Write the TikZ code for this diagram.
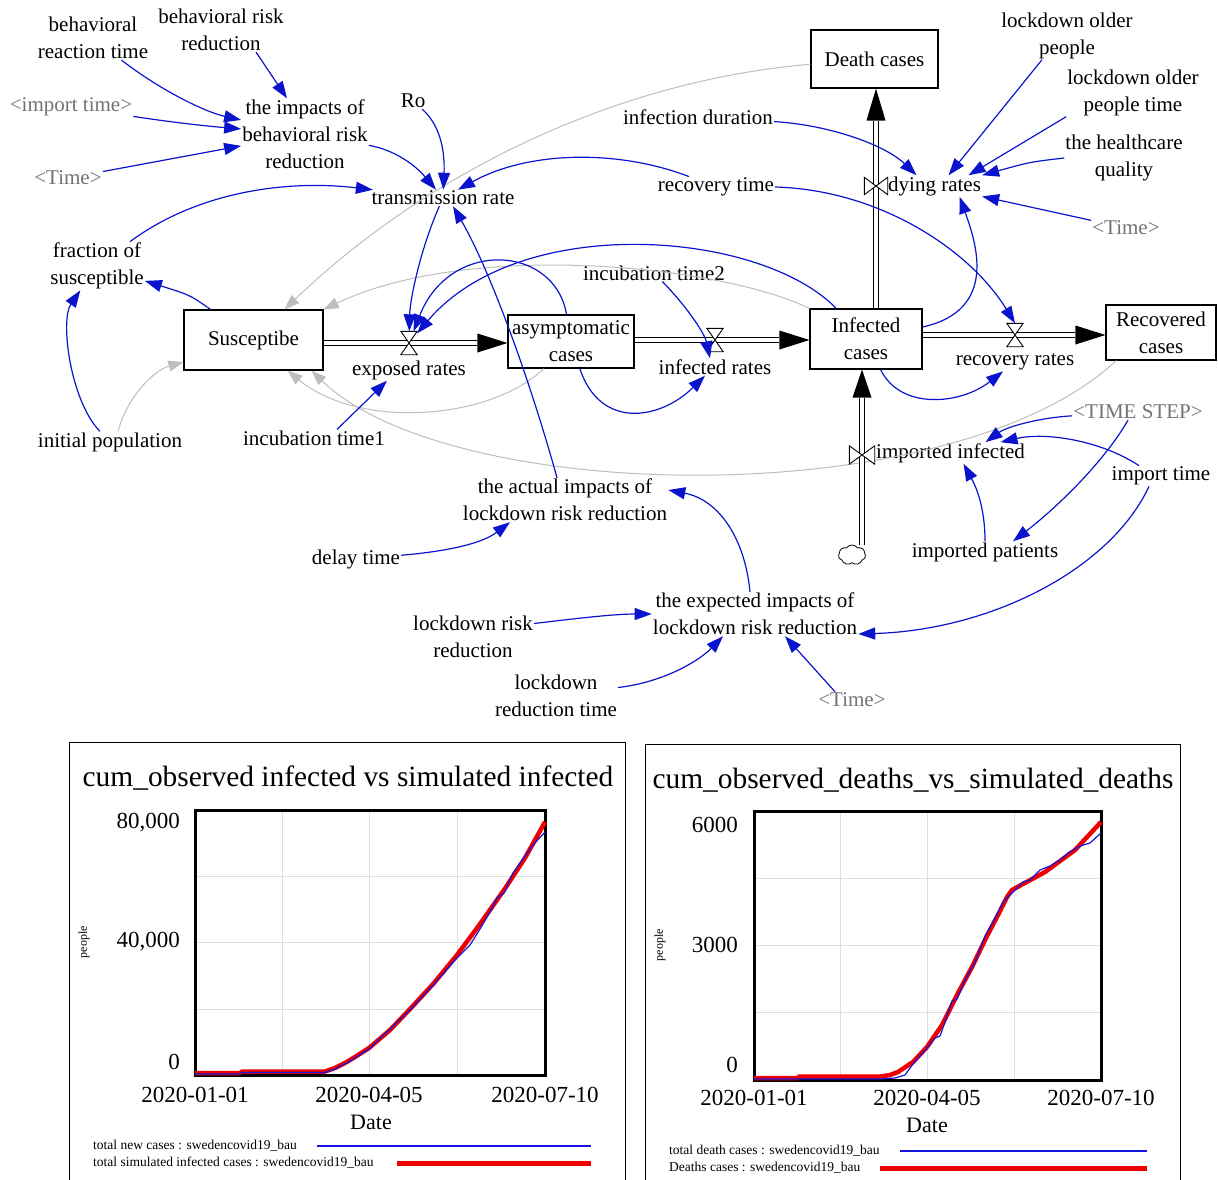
\documentclass[tikz,border=0pt]{standalone}
\usepackage{fontspec}
\setmainfont{Liberation Serif}
\usetikzlibrary{arrows.meta,shapes.symbols,calc}
\definecolor{infoblue}{RGB}{10,20,205}
\definecolor{linkgrey}{RGB}{190,190,190}
\definecolor{txtgrey}{RGB}{115,115,115}
\definecolor{gridgrey}{RGB}{222,222,222}
\definecolor{simred}{RGB}{238,0,0}
\definecolor{obsblue}{RGB}{20,20,220}
\newcommand\diafont{\fontsize{21}{27}\selectfont}
\newcommand\ttlfont{\fontsize{29.4}{34}\selectfont}
\newcommand\tickfont{\fontsize{23}{27}\selectfont}
\newcommand\datefont{\fontsize{22}{26}\selectfont}
\newcommand\legfont{\fontsize{13.5}{16}\selectfont}
\newcommand\pplfont{\fontsize{12}{14}\selectfont}
\begin{document}
\begin{tikzpicture}[x=1pt,y=-1pt,
  lbl/.style={font=\diafont, align=center, inner sep=1pt},
  glbl/.style={lbl, text=txtgrey},
  stock/.style={draw, line width=1.1pt, font=\diafont, align=center, inner sep=2pt},
  hvalve/.style={inner sep=0pt, minimum width=16pt, minimum height=23pt},
  vvalve/.style={inner sep=0pt, minimum width=23pt, minimum height=17pt},
  info/.style={draw=infoblue, line width=1.2pt, -{Triangle[length=17pt,width=12pt]}},
  glink/.style={draw=linkgrey, line width=1pt, -{Triangle[length=15pt,width=11pt]}},
  pipe/.style={draw=black, line width=1.2pt, double=white, double distance=4pt},
  valveshape/.style={draw=black, line width=0.9pt, fill=white},
  tick/.style={font=\tickfont, inner sep=0pt},
  leg/.style={font=\legfont, inner sep=0pt, anchor=west},
]
\useasboundingbox (0,0) rectangle (1218,1180);

% ---------------- labels / auxiliaries ----------------
\node[lbl] (brt) at (93,38) {behavioral\\reaction time};
\node[lbl] (brr) at (221,30) {behavioral risk\\reduction};
\node[glbl] (it1) at (71,107) {<import time>};
\node[glbl] (tm1) at (68,178) {<Time>};
\node[lbl] (ibr) at (305,134) {the impacts of\\behavioral risk\\reduction};
\node[lbl] (ro) at (413,101) {Ro};
\node[lbl] (tr) at (443,198) {transmission rate};
\node[lbl] (fos) at (97,266) {fraction of\\susceptible};
\node[lbl] (ip) at (110,442) {initial population};
\node[lbl] (it1n) at (314,438) {incubation time1};
\node[lbl] (it2) at (654,273) {incubation time2};
\node[lbl] (idur) at (698,117) {infection duration};
\node[lbl] (rect) at (716,187) {recovery time};
\node[lbl] (lop) at (1067,35.5) {lockdown older\\people};
\node[lbl] (lopt) at (1133,92.5) {lockdown older\\people time};
\node[lbl] (hq) at (1124,158) {the healthcare\\quality};
\node[glbl] (tm2) at (1126,228) {<Time>};
\node[glbl] (tstep) at (1138,412) {<TIME STEP>};
\node[lbl] (impt) at (1161,476) {import time};
\node[lbl] (impp) at (985,552) {imported patients};
\node[lbl] (act) at (565,500) {the actual impacts of\\lockdown risk reduction};
\node[lbl] (dly) at (356,559) {delay time};
\node[lbl] (exp) at (755,614) {the expected impacts of\\lockdown risk reduction};
\node[lbl] (lrr) at (473,636.5) {lockdown risk\\reduction};
\node[lbl] (lrt) at (556,695.5) {lockdown\\reduction time};
\node[glbl] (tm3) at (852,700) {<Time>};

% ---------------- stocks ----------------
\node[stock, minimum width=139pt, minimum height=60pt] (sus) at (253.5,340) {Susceptibe};
\node[stock, minimum width=126pt, minimum height=53pt, inner sep=0pt] (asy) at (571,341.5) {asymptomatic\\cases};
\node[stock, minimum width=112pt, minimum height=60pt] (inf) at (866,339) {Infected\\cases};
\node[stock, minimum width=110pt, minimum height=55pt] (rec) at (1161,332.5) {Recovered\\cases};
\node[stock, minimum width=127pt, minimum height=58pt] (dth) at (874.5,59) {Death cases};

% ---------------- valves and rate labels ----------------
\node[hvalve] (vexp) at (409,343) {};
\node[lbl] (lexp) at (409,370) {exposed rates};
\node[hvalve] (vinf) at (715,340) {};
\node[lbl] (linf) at (715,367) {infected rates};
\node[hvalve] (vrec) at (1015,335) {};
\node[lbl] (lrec) at (1015,362) {recovery rates};
\node[vvalve] (vdy) at (876,186) {};
\node[lbl, anchor=west] (ldy) at (887,186) {dying rates};
\node[vvalve, minimum width=25pt, minimum height=18pt] (vimp) at (862,455) {};
\node[lbl, anchor=west] (limp) at (875,453) {imported infected};
\node[draw, cloud, cloud puffs=7, cloud puff arc=110, aspect=1.4, minimum width=27pt, minimum height=20pt, inner sep=0pt, line width=0.8pt] (cld) at (852,555) {};

% ---------------- grey links ----------------
\draw[glink] (dth) .. controls (620,80) and (430,170) .. ([xshift=31pt]sus.north);
\draw[glink] (inf.north west) .. controls (720,265) and (470,240) .. (sus.north east);
\draw[glink] ([xshift=8pt]ip.north) .. controls (128,395) and (155,370) .. ([yshift=-22pt]sus.west);
\draw[glink] ([xshift=-27pt]asy.south) .. controls (490,420) and (360,430) .. ([xshift=34pt]sus.south);
\draw[glink] ([xshift=11pt]rec.south west) .. controls (950,515) and (450,505) .. ([xshift=58pt]sus.south);

% ---------------- flows ----------------
\draw[pipe] (sus.east |- vexp) -- ($(asy.west |- vexp)+(-30,0)$);
\fill (asy.west |- vexp) -- ++(-30,-9.5) -- ++(0,19) -- cycle;
\draw[pipe] (asy.east |- vinf) -- ($(inf.west |- vinf)+(-30,0)$);
\fill (inf.west |- vinf) -- ++(-30,-9.5) -- ++(0,19) -- cycle;
\draw[pipe] (inf.east |- vrec) -- ($(rec.west |- vrec)+(-30,0)$);
\fill (rec.west |- vrec) -- ++(-30,-9.5) -- ++(0,19) -- cycle;
\draw[pipe] (vdy |- inf.north) -- ($(vdy |- dth.south)+(0,32)$);
\fill (vdy |- dth.south) -- ++(-9.5,32) -- ++(19,0) -- cycle;
\draw[pipe] (vimp |- cld.north) -- ($(vimp |- inf.south)+(0,28)$);
\fill (vimp |- inf.south) -- ++(-9.5,28) -- ++(19,0) -- cycle;

\draw[valveshape] (vexp.north west) -- (vexp.north east) -- (vexp.south west) -- (vexp.south east) -- cycle;
\draw[valveshape] (vinf.north west) -- (vinf.north east) -- (vinf.south west) -- (vinf.south east) -- cycle;
\draw[valveshape] (vrec.north west) -- (vrec.north east) -- (vrec.south west) -- (vrec.south east) -- cycle;
\draw[valveshape] (vdy.north west) -- (vdy.south west) -- (vdy.north east) -- (vdy.south east) -- cycle;
\draw[valveshape] (vimp.north west) -- (vimp.south west) -- (vimp.north east) -- (vimp.south east) -- cycle;

% ---------------- blue information links ----------------
\draw[info] (brt) .. controls (160,90) and (205,112) .. (ibr);
\draw[info] ([xshift=35pt]brr.south) -- ([xshift=-18pt]ibr.north);
\draw[info] (it1) .. controls (170,122) and (205,126) .. (ibr);
\draw[info] (tm1) -- (ibr);
\draw[info] (ibr) .. controls (395,150) and (415,165) .. (tr);
\draw[info] (ro) .. controls (440,125) and (445,150) .. (tr);
\draw[info] (fos) .. controls (200,190) and (290,180) .. (tr);
\draw[info] ([xshift=-43pt]sus.north) .. controls (190,295) .. (fos);
\draw[info] (ip) .. controls (70,400) and (60,320) .. (fos);
\draw[info] (rect) .. controls (620,150) and (530,150) .. (tr);
\draw[info] (tr) .. controls (420,250) and (410,300) .. (vexp);
\draw[info] ([xshift=-8pt]act.north) .. controls (530,380) and (490,270) .. ([xshift=10pt]tr.south);
\draw[info] (asy) .. controls (555,245) and (450,238) .. (vexp);
\draw[info] (inf) .. controls (760,230) and (520,212) .. (vexp);
\draw[info] (asy) .. controls (600,430) and (660,420) .. ([xshift=-10pt]linf.south);
\draw[info] (it2) .. controls (690,310) and (705,335) .. ([xshift=-5pt]linf.north);
\draw[info] (inf) .. controls (900,410) and (960,405) .. (lrec);
\draw[info] (rect.east) .. controls (880,190) and (970,250) .. (vrec.north);
\draw[info] ([yshift=12pt]inf.east) .. controls (1000,310) and (975,240) .. ([xshift=25pt]ldy.south);
\draw[info] (idur) .. controls (830,125) and (885,145) .. ([xshift=-18pt]ldy.north);
\draw[info] ([xshift=-25pt]lop.south) -- ([xshift=14pt]ldy.north);
\draw[info] (lopt.south west) -- ([xshift=34pt]ldy.north);
\draw[info] (hq.west) .. controls (1030,162) .. (ldy.north east);
\draw[info] (tm2) -- (ldy);
\draw[info] (tstep) .. controls (1035,418) and (1005,428) .. ([xshift=35pt]limp.north);
\draw[info] ([xshift=-22pt]impt.north) .. controls (1100,440) and (1045,432) .. ([xshift=50pt]limp.north);
\draw[info] ([xshift=-10pt]tstep.south) .. controls (1105,460) and (1060,505) .. ([xshift=28pt]impp.north);
\draw[info] (impp.north) .. controls (985,505) and (975,485) .. ([xshift=13pt]limp.south);
\draw[info] ([xshift=-12pt]impt.south) .. controls (1110,570) and (990,630) .. ([yshift=-20pt]exp.east);
\draw[info] ([xshift=-5pt]exp.north) .. controls (745,540) and (720,500) .. ([yshift=10pt]act.east);
\draw[info] (dly) .. controls (440,552) and (480,545) .. ([xshift=-55pt]act.south);
\draw[info] ([yshift=13pt]lrr.east) .. controls (580,618) and (615,614) .. (exp.west);
\draw[info] ([yshift=8pt]lrt.east) .. controls (665,682) and (700,660) .. ([xshift=-32pt]exp.south);
\draw[info] ([xshift=-17pt]tm3.north) -- ([xshift=30pt]exp.south);
\draw[info] ([xshift=23pt]it1n.north) -- ([xshift=-22pt]lexp.south);

% ================= chart 1 =================
\draw[line width=1pt] (69,1180) -- (69,742) -- (625,742) -- (625,1180);
\node[font=\ttlfont, inner sep=0pt] (ttl1) at (348,778) {cum\_observed infected vs simulated infected};
\draw[gridgrey, line width=0.8pt] (282,810) -- (282,1075) (369,810) -- (369,1075) (457,810) -- (457,1075)
  (195,876) -- (545,876) (195,942) -- (545,942) (195,1009) -- (545,1009);
\draw[line width=3pt] (195,810) rectangle (545,1075);
\draw[simred, line width=4.5pt, line join=round] (195,1073) -- (240,1073) -- (242,1071.5) -- (325,1071.5)
  -- (335,1068) -- (345,1063) -- (355,1057) -- (369,1048) -- (390,1030) -- (411,1008) -- (434,983)
  -- (457,955) -- (480,924) -- (504,890) -- (525,858) -- (545,822);
\draw[obsblue, line width=1.2pt, line join=round] (195,1074) -- (240,1074) -- (242,1072.5) -- (325,1072.5)
  -- (335,1069) -- (350,1061) -- (369,1049) -- (390,1029) -- (411,1009) -- (434,984) -- (457,958)
  -- (470,945) -- (480,929) -- (490,912) -- (497,898) -- (504,893) -- (513,873) -- (525,856)
  -- (533,845) -- (545,832);
\node[tick, anchor=east] (y1a) at (180,823) {80,000};
\node[tick, anchor=east] (y1b) at (180,942) {40,000};
\node[tick, anchor=east] (y1c) at (180,1062) {0};
\node[font=\pplfont, rotate=90, inner sep=0pt] (ppl1) at (84,942) {people};
\node[tick] (x1a) at (195,1095) {2020-01-01};
\node[tick] (x1b) at (369,1095) {2020-04-05};
\node[tick] (x1c) at (545,1095) {2020-07-10};
\node[font=\datefont, inner sep=0pt] (dt1) at (371,1122) {Date};
\node[leg] (lg1a) at (93,1146) {total new cases : swedencovid19\_bau};
\node[leg] (lg1b) at (93,1163) {total simulated infected cases : swedencovid19\_bau};
\draw[obsblue, line width=1.2pt] (317,1146) -- (591,1146);
\draw[simred, line width=5pt] (397,1163) -- (591,1163);

% ================= chart 2 =================
\draw[line width=1pt] (645,1180) -- (645,744) -- (1180,744) -- (1180,1180);
\node[font=\ttlfont, inner sep=0pt] (ttl2) at (913,780) {cum\_observed\_deaths\_vs\_simulated\_deaths};
\draw[gridgrey, line width=0.8pt] (840,811) -- (840,1080) (927,811) -- (927,1080) (1014,811) -- (1014,1080)
  (754,878) -- (1101,878) (754,945) -- (1101,945) (754,1012) -- (1101,1012);
\draw[line width=3pt] (754,811) rectangle (1101,1080);
\draw[simred, line width=4.5pt, line join=round] (754,1078) -- (798,1078) -- (799,1076.5) -- (880,1076.5)
  -- (890,1075) -- (898,1072) -- (913,1062) -- (927,1047) -- (942,1025) -- (957,995) -- (972,967)
  -- (986,938) -- (999,913) -- (1007,897) -- (1012,890) -- (1023,884) -- (1045,872) -- (1075,850) -- (1101,822);
\draw[obsblue, line width=1.2pt, line join=round] (754,1079) -- (880,1079) -- (895,1078) -- (905,1075)
  -- (913,1064) -- (927,1048) -- (935,1038) -- (940,1036) -- (945,1022) -- (952,1001) -- (957,999)
  -- (965,980) -- (975,962) -- (985,936) -- (995,918) -- (1003,902) -- (1012,893) -- (1023,882)
  -- (1030,880) -- (1040,870) -- (1050,866) -- (1060,860) -- (1068,853) -- (1080,846) -- (1090,843) -- (1101,833);
\node[tick, anchor=east] (y2a) at (738,825) {6000};
\node[tick, anchor=east] (y2b) at (738,945) {3000};
\node[tick, anchor=east] (y2c) at (738,1065) {0};
\node[font=\pplfont, rotate=90, inner sep=0pt] (ppl2) at (660,945) {people};
\node[tick] (x2a) at (754,1098) {2020-01-01};
\node[tick] (x2b) at (927,1098) {2020-04-05};
\node[tick] (x2c) at (1101,1098) {2020-07-10};
\node[font=\datefont, inner sep=0pt] (dt2) at (927,1125) {Date};
\node[leg] (lg2a) at (669,1151) {total death cases : swedencovid19\_bau};
\node[leg] (lg2b) at (669,1168) {Deaths cases : swedencovid19\_bau};
\draw[obsblue, line width=1.2pt] (900,1151) -- (1147,1151);
\draw[simred, line width=5pt] (880,1168) -- (1147,1168);
\end{tikzpicture}
\end{document}
